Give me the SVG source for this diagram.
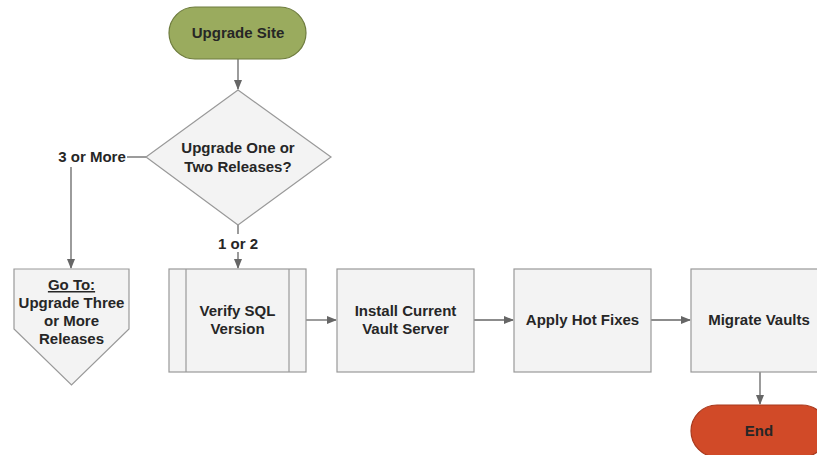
<svg xmlns="http://www.w3.org/2000/svg" width="817" height="455" viewBox="0 0 817 455">
<defs>
<marker id="ah" markerWidth="10" markerHeight="8" refX="9" refY="4" orient="auto" markerUnits="userSpaceOnUse">
<path d="M0,0 L10,4 L0,8 Z" fill="#666"/>
</marker>
<style>
text{font-family:"Liberation Sans",Arial,sans-serif;font-weight:bold;font-size:15px;fill:#262626;text-anchor:middle}
.box{fill:#f3f3f3;stroke:#999;stroke-width:1.2}
.ln{fill:none;stroke:#666;stroke-width:1.3}
</style>
</defs>
<rect width="817" height="455" fill="#fff"/>
<g id="connectors">
<line class="ln" x1="238" y1="59" x2="238" y2="89" marker-end="url(#ah)"/>
<line class="ln" x1="127" y1="157" x2="146" y2="157"/>
<polyline class="ln" points="71,167 71,268" marker-end="url(#ah)"/>
<line class="ln" x1="238" y1="225" x2="238" y2="234"/>
<line class="ln" x1="238" y1="252" x2="238" y2="268" marker-end="url(#ah)"/>
<line class="ln" x1="306" y1="320" x2="336" y2="320" marker-end="url(#ah)"/>
<line class="ln" x1="474" y1="320" x2="513" y2="320" marker-end="url(#ah)"/>
<line class="ln" x1="651" y1="320" x2="690" y2="320" marker-end="url(#ah)"/>
<line class="ln" x1="760" y1="372" x2="760" y2="404" marker-end="url(#ah)"/>
<text x="92" y="162">3 or More</text>
<text x="238" y="249">1 or 2</text>
</g>
<g id="start">
<rect x="169" y="7" width="137" height="52" rx="26" fill="#9aab5e" stroke="#6e7c3e" stroke-width="1.2"/>
<text x="238" y="38">Upgrade Site</text>
</g>
<g id="decision">
<polygon class="box" points="238,90 331,157 238,225 146,157" stroke="#b5b5b5"/>
<text x="238" y="153">Upgrade One or</text>
<text x="238" y="172">Two Releases?</text>
</g>
<g id="goto">
<polygon class="box" points="14,269 129,269 129,329 71.5,385 14,329" stroke="#aaa"/>
<text x="71.5" y="290" text-decoration="underline">Go To:</text>
<text x="71.5" y="308">Upgrade Three</text>
<text x="71.5" y="326">or More</text>
<text x="71.5" y="344">Releases</text>
</g>
<g id="verify">
<rect class="box" x="169" y="269" width="137" height="103"/>
<line x1="186" y1="269" x2="186" y2="372" stroke="#999" stroke-width="1.2"/>
<line x1="289" y1="269" x2="289" y2="372" stroke="#999" stroke-width="1.2"/>
<text x="237.5" y="316">Verify SQL</text>
<text x="237.5" y="334">Version</text>
</g>
<g id="install">
<rect class="box" x="337" y="269" width="137" height="103"/>
<text x="405.5" y="316">Install Current</text>
<text x="405.5" y="334">Vault Server</text>
</g>
<g id="hotfix">
<rect class="box" x="514" y="269" width="137" height="103"/>
<text x="582.5" y="325">Apply Hot Fixes</text>
</g>
<g id="migrate">
<rect class="box" x="691" y="269" width="137" height="103"/>
<text x="759" y="325">Migrate Vaults</text>
</g>
<g id="end">
<rect x="691" y="405" width="137" height="52" rx="26" fill="#d14a28" stroke="#a8391d" stroke-width="1.2"/>
<text x="759" y="436">End</text>
</g>
</svg>
